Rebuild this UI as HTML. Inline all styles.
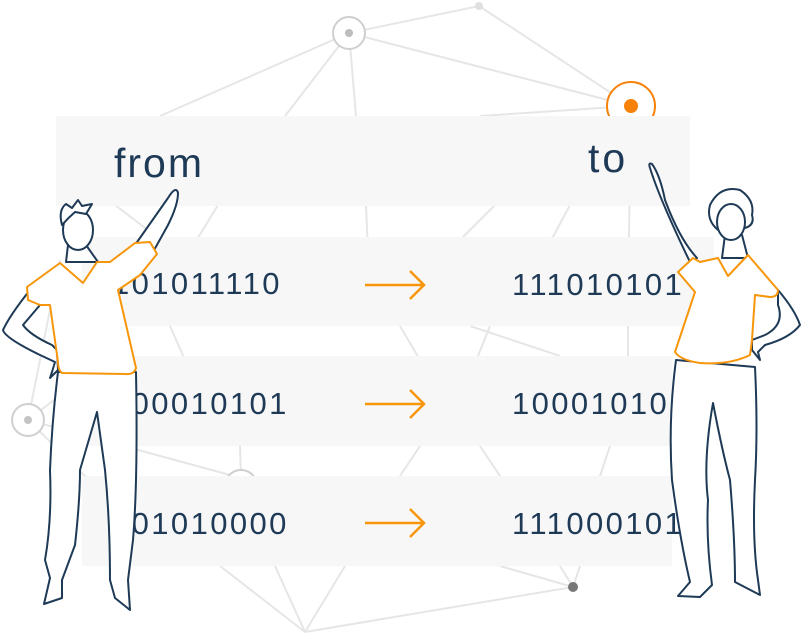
<!DOCTYPE html>
<html><head><meta charset="utf-8"><style>
html,body{margin:0;padding:0;background:#fff;}
svg{display:block}
text{font-family:"Liberation Sans","DejaVu Sans",sans-serif;fill:#1e3a56}
</style></head><body>
<svg width="802" height="634" viewBox="0 0 802 634" xmlns="http://www.w3.org/2000/svg">
<g stroke="#e6e6e6" stroke-width="2" fill="none">
<line x1="349" y1="33" x2="479" y2="6"/>
<line x1="349" y1="33" x2="631" y2="106"/>
<line x1="479" y1="6" x2="631" y2="106"/>
<line x1="349" y1="33" x2="160" y2="116"/>
<line x1="349" y1="33" x2="285" y2="116"/>
<line x1="349" y1="33" x2="356" y2="116"/>
<line x1="631" y1="106" x2="480" y2="116"/>
<line x1="631" y1="106" x2="628" y2="300"/>
<line x1="115" y1="205" x2="240" y2="300"/>
<line x1="218" y1="205" x2="160" y2="300"/>
<line x1="366" y1="205" x2="370" y2="300"/>
<line x1="495" y1="205" x2="420" y2="280"/>
<line x1="570" y1="205" x2="530" y2="280"/>
<line x1="170" y1="326" x2="185" y2="360"/>
<line x1="400" y1="326" x2="420" y2="360"/>
<line x1="490" y1="326" x2="478" y2="356"/>
<line x1="470" y1="326" x2="560" y2="356"/>
<line x1="628" y1="326" x2="628" y2="356"/>
<line x1="28" y1="420" x2="60" y2="260"/>
<line x1="28" y1="420" x2="80" y2="380"/>
<line x1="28" y1="420" x2="241" y2="478"/>
<line x1="28" y1="420" x2="150" y2="540"/>
<line x1="240" y1="446" x2="241" y2="478"/>
<line x1="420" y1="446" x2="400" y2="476"/>
<line x1="480" y1="446" x2="500" y2="476"/>
<line x1="610" y1="446" x2="600" y2="476"/>
<line x1="220" y1="566" x2="305" y2="632"/>
<line x1="275" y1="566" x2="305" y2="632"/>
<line x1="345" y1="566" x2="305" y2="632"/>
<line x1="305" y1="632" x2="573" y2="587"/>
<line x1="500" y1="566" x2="573" y2="587"/>
<line x1="560" y1="566" x2="573" y2="587"/>
<line x1="580" y1="566" x2="573" y2="587"/>
</g>
<circle cx="349" cy="33" r="16" fill="#fff" stroke="#cfcfcf" stroke-width="2"/>
<circle cx="349" cy="33" r="4" fill="#bdbdbd"/>
<circle cx="479" cy="6" r="4" fill="#e0e0e0"/>
<circle cx="631" cy="106" r="24" fill="#fff" stroke="#f7820a" stroke-width="2"/>
<circle cx="631" cy="106" r="7" fill="#f7820a"/>
<circle cx="28" cy="420" r="16" fill="#fff" stroke="#cfcfcf" stroke-width="2"/>
<circle cx="28" cy="420" r="4" fill="#c4c4c4"/>
<circle cx="241" cy="486" r="16" fill="#fff" stroke="#cfcfcf" stroke-width="2"/>
<circle cx="573" cy="587" r="5" fill="#777"/>

<rect x="56" y="116" width="634" height="90" fill="#f7f7f7"/>
<rect x="82" y="237" width="632" height="89" fill="#f7f7f7"/>
<rect x="82" y="356" width="590" height="90" fill="#f7f7f7"/>
<rect x="82" y="476" width="590" height="90" fill="#f7f7f7"/>

<text x="114" y="177" font-size="41" letter-spacing="2">from</text>
<text x="588" y="172" font-size="41" letter-spacing="3">to</text>
<g font-size="31" letter-spacing="2.4">
<text x="112" y="294">101011110</text>
<text x="512" y="295">111010101</text>
<text x="112" y="414">100010101</text>
<text x="512" y="414">10001010</text>
<text x="112" y="534">101010000</text>
<text x="512" y="534">111000101</text>
</g>
<g stroke="#f7960a" stroke-width="2.5" fill="none">
<path d="M365 285H424M410 271L424 285L410 299"/>
<path d="M365 404H424M410 390L424 404L410 418"/>
<path d="M365 523H424M410 509L424 523L410 537"/>
</g>

<!-- man -->
<g stroke="#1e3a56" stroke-width="2" fill="#fff" stroke-linejoin="round">
<path d="M135 245L168 198Q176 185 178 193Q178 205 168 225L153 252Z"/>
<path d="M30 290Q10 315 3 330Q5 338 40 355L55 362L52 372L50 378L58 370L57 350L52 345Q30 335 23 325L40 305Z"/>
<path d="M58 372Q52 420 50 470Q52 520 45 560L50 578L44 604L62 598L62 580L75 545Q80 500 80 470L97 412L105 470Q110 520 110 580L115 598L130 610L128 580L133 540Q138 480 136 372Z"/>
<path d="M68 245L66 262L98 262L86 245Z"/>
<ellipse cx="78" cy="230" rx="15" ry="20"/>
<path d="M62 225Q58 210 66 204L72 208L78 200L82 206L92 204L86 214L75 212Q68 218 62 225Z"/>
</g>
<path d="M60 263L83 283L97 262L110 262L135 243L150 242L157 254L140 275L118 290L136 368Q134 375 125 374L62 373Q58 370 58 362L50 305L40 305L28 300L27 287Z" fill="#fff" stroke="#f7960a" stroke-width="2" stroke-linejoin="round"/>

<!-- woman -->
<g stroke="#1e3a56" stroke-width="2" fill="#fff" stroke-linejoin="round">
<path d="M690 262Q660 200 650 168Q648 162 652 164Q660 175 665 200Q680 240 697 258Z"/>
<path d="M778 290Q795 310 800 325Q790 338 765 345L758 352L760 360L752 350L752 340L765 335Q785 325 778 305Z"/>
<path d="M676 360Q668 420 672 480Q680 540 690 582L678 596L700 597L712 585Q706 540 708 500Q703 460 713 403Q722 450 730 480Q735 540 735 582L760 595L758 580Q752 540 755 480Q758 430 755 367Z"/>
<path d="M725 235L722 258L748 258L742 235Z"/>
<path d="M718 230Q706 220 710 205Q720 185 740 190Q755 200 752 215Q755 225 745 228Z"/>
<ellipse cx="731" cy="222" rx="14" ry="18"/>
</g>
<path d="M693 258L700 262L718 258L728 276L748 255L778 290Q778 297 770 297L755 295L752 340L750 355Q730 365 700 363Q680 360 675 352L695 292L678 272Z" fill="#fff" stroke="#f7960a" stroke-width="2" stroke-linejoin="round"/>
</svg>
</body></html>
